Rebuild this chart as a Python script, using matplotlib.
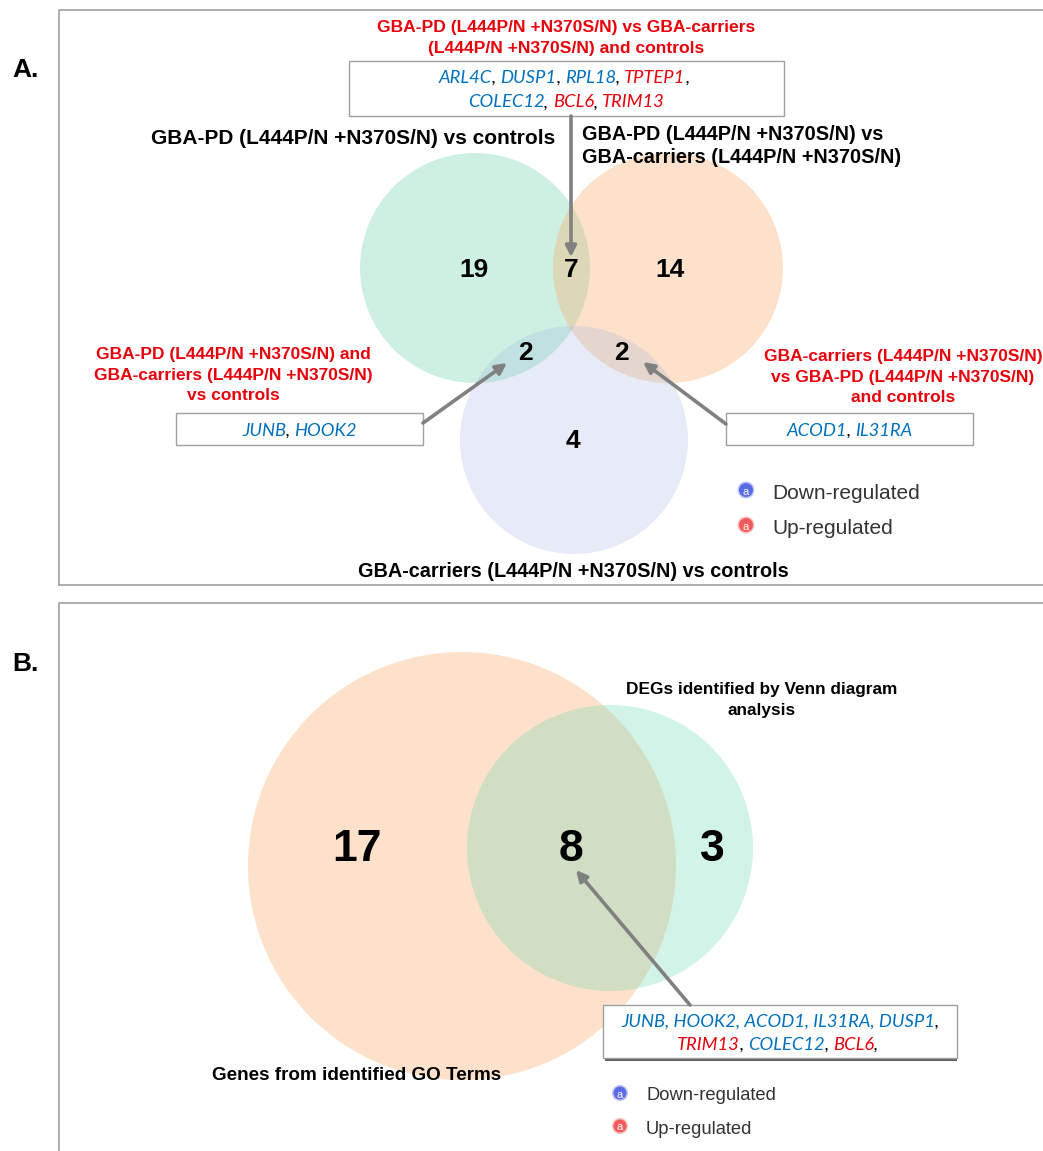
import matplotlib
matplotlib.use("Agg")
import matplotlib.pyplot as plt
from matplotlib.patches import Circle, Rectangle, FancyArrowPatch

# ---------------- data ----------------
# Panel A: three-way comparison region counts
a_set_labels = ["GBA-PD (L444P/N +N370S/N) vs controls",
                "GBA-PD (L444P/N +N370S/N) vs\nGBA-carriers (L444P/N +N370S/N)",
                "GBA-carriers (L444P/N +N370S/N) vs controls"]
a_only_pd_ctrl = 19
a_only_pd_car = 14
a_only_car_ctrl = 4
a_pd_ctrl_and_pd_car = 7
a_pd_ctrl_and_car_ctrl = 2
a_pd_car_and_car_ctrl = 2

# Genes in highlighted intersections (name, regulation)
genes_top = [("ARL4C", "down"), ("DUSP1", "down"), ("RPL18", "down"), ("TPTEP1", "up"),
             ("COLEC12", "down"), ("BCL6", "up"), ("TRIM13", "up")]
genes_left = [("JUNB", "down"), ("HOOK2", "down")]
genes_right = [("ACOD1", "down"), ("IL31RA", "down")]

title_top = "GBA-PD (L444P/N +N370S/N) vs GBA-carriers\n(L444P/N +N370S/N) and controls"
title_left = "GBA-PD (L444P/N +N370S/N) and\nGBA-carriers (L444P/N +N370S/N)\nvs controls"
title_right = "GBA-carriers (L444P/N +N370S/N)\nvs GBA-PD (L444P/N +N370S/N)\nand controls"

# Panel B: GO-term genes vs Venn-derived DEGs
b_set_labels = ["Genes from identified GO Terms", "DEGs identified by Venn diagram\nanalysis"]
b_only_go = 17
b_both = 8
b_only_deg = 3
genes_b = [("JUNB", "down"), ("HOOK2", "down"), ("ACOD1", "down"), ("IL31RA", "down"),
           ("DUSP1", "down"), ("TRIM13", "up"), ("COLEC12", "down"), ("BCL6", "up")]

legend_labels = ["Down-regulated", "Up-regulated"]

# ---------------- style ----------------
W, H = 1043, 1151
BLUE = "#0070c0"
RED = "#e8000b"
REG_COL = {"down": BLUE, "up": RED}
SANS = ["Liberation Sans", "DejaVu Sans"]
GENE_FONT = ["Lato", "DejaVu Sans"]
GREY = "#808080"

fig = plt.figure(figsize=(W / 100, H / 100), dpi=100)
ax = fig.add_axes([0, 0, 1, 1])
ax.set_xlim(0, W)
ax.set_ylim(H, 0)
ax.axis("off")
renderer = fig.canvas.get_renderer()


def rich_line(x, y, segments, size):
    """Draw a centred line made of differently coloured pieces."""
    texts = []
    for s, c in segments:
        t = ax.text(0, y, s, color=c, fontsize=size, family=GENE_FONT, style="italic",
                    va="center", ha="left", zorder=6)
        texts.append(t)
    widths = [t.get_window_extent(renderer).width for t in texts]
    total = sum(widths)
    cur = x - total / 2
    for t, w in zip(texts, widths):
        t.set_x(cur)
        cur += w


def gene_segments(genes, comma_last=False):
    segs = []
    for i, (g, r) in enumerate(genes):
        segs.append((g, REG_COL[r]))
        if i < len(genes) - 1 or comma_last:
            segs.append((", ", "black"))
    return segs


def gene_box(x0, y0, x1, y1, lines, size=13.2):
    ax.add_patch(Rectangle((x0, y0), x1 - x0, y1 - y0, facecolor="white",
                           edgecolor="#a0a0a0", lw=1.0, zorder=3))
    n = len(lines)
    step = (y1 - y0) / (n + 0.25)
    for i, segs in enumerate(lines):
        yy = y0 + (y1 - y0) / 2 + (i - (n - 1) / 2) * step + 1.5
        rich_line((x0 + x1) / 2, yy, segs, size)


def arrow(p0, p1):
    ax.add_patch(FancyArrowPatch(p0, p1, arrowstyle="-|>", mutation_scale=16,
                                 color=GREY, lw=2.6, zorder=4, shrinkA=0, shrinkB=0))


def legend(x, y, dy, size, r):
    for i, (lab, col) in enumerate(zip(legend_labels, ["#4a5be0", "#f04848"])):
        yy = y + i * dy
        ax.add_patch(Circle((x, yy), r + 1.5, facecolor=col, edgecolor="none", alpha=0.35, zorder=5))
        ax.add_patch(Circle((x, yy), r, facecolor=col, edgecolor="none", alpha=0.85, zorder=5))
        ax.text(x, yy + 1.5, "a", color="white", fontsize=8, ha="center", va="center",
                family=SANS, zorder=6)
        ax.text(x + 26, yy + 3, lab, color="#333333", fontsize=size, family=SANS,
                ha="left", va="center")


# ---------------- panel frames ----------------
ax.plot([59, 59, W + 5], [585, 10, 10], color="#a0a0a0", lw=1.2)
ax.plot([59, W + 5], [585, 585], color="#a0a0a0", lw=1.2)
ax.plot([59, 59, W + 5], [H + 5, 603, 603], color="#a0a0a0", lw=1.2)
ax.text(12, 70, "A.", fontsize=19, fontweight="bold", family=SANS, va="center")
ax.text(12, 664, "B.", fontsize=19, fontweight="bold", family=SANS, va="center")

# ---------------- panel A ----------------
ax.add_patch(Circle((475, 268), 115, facecolor=(0.40, 0.82, 0.66), alpha=0.32, lw=0))
ax.add_patch(Circle((668, 268), 115, facecolor=(0.99, 0.62, 0.32), alpha=0.30, lw=0))
ax.add_patch(Circle((574, 440), 114, facecolor=(0.62, 0.70, 0.88), alpha=0.25, lw=0))

num_kw = dict(fontsize=19, fontweight="bold", family=SANS, ha="center", va="center", zorder=5)
ax.text(474, 270, str(a_only_pd_ctrl), **num_kw)
ax.text(571, 270, str(a_pd_ctrl_and_pd_car), **num_kw)
ax.text(670, 270, str(a_only_pd_car), **num_kw)
ax.text(525, 353, str(a_pd_ctrl_and_car_ctrl), **num_kw)
ax.text(621, 353, str(a_pd_car_and_car_ctrl), **num_kw)
ax.text(573, 441, str(a_only_car_ctrl), **num_kw)

lab_kw = dict(fontweight="bold", family=SANS, color="black")
ax.text(353, 138, a_set_labels[0], ha="center", va="center", fontsize=15, **lab_kw)
ax.text(582, 146, a_set_labels[1], ha="left", va="center", linespacing=1.27,
        fontsize=14.3, **lab_kw)
ax.text(573, 571, a_set_labels[2], ha="center", va="center", fontsize=14.3, **lab_kw)

red_kw = dict(fontweight="bold", family=SANS, color=RED,
              ha="center", va="center", linespacing=1.42)
ax.text(566, 38, title_top, fontsize=12.6, **red_kw)
ax.text(233, 375, title_left, fontsize=12.5, **red_kw)
ax.text(903, 377, title_right, fontsize=12.5, **red_kw)

gene_box(349, 61, 784, 116, [gene_segments(genes_top[:4], comma_last=True),
                             gene_segments(genes_top[4:])])
gene_box(176, 413, 423, 445, [gene_segments(genes_left)])
gene_box(726, 413, 973, 445, [gene_segments(genes_right)])

arrow((571, 116), (571, 257))
arrow((423, 423), (507, 363))
arrow((726, 424), (643, 362))

legend(746, 490, 35, 15, 7)

# ---------------- panel B ----------------
ax.add_patch(Circle((462, 866), 214, facecolor=(0.99, 0.64, 0.36), alpha=0.32, lw=0))
ax.add_patch(Circle((610, 848), 143, facecolor=(0.42, 0.85, 0.70), alpha=0.30, lw=0))

numb_kw = dict(fontsize=32, fontweight="bold", family=SANS, ha="center", va="center", zorder=5)
ax.text(357, 849, str(b_only_go), **numb_kw)
ax.text(571, 849, str(b_both), **numb_kw)
ax.text(712, 849, str(b_only_deg), **numb_kw)

labb_kw = dict(fontweight="bold", family=SANS, color="black")
ax.text(357, 1075, b_set_labels[0], ha="center", va="center", fontsize=13.6, **labb_kw)
ax.text(762, 700, b_set_labels[1], ha="center", va="center", linespacing=1.45,
        fontsize=12.4, **labb_kw)

line1 = [(", ".join(g for g, _ in genes_b[:5]), BLUE), (",", "black")]
line2 = gene_segments(genes_b[5:], comma_last=True)
ax.add_patch(Rectangle((605, 1058), 352, 2.5, facecolor="#606060", lw=0, zorder=2))
gene_box(603, 1005, 957, 1058, [line1, line2])
arrow((690, 1005), (576, 870))

legend(620, 1093, 33, 13.2, 6.5)

fig.savefig("out.png", dpi=100)
